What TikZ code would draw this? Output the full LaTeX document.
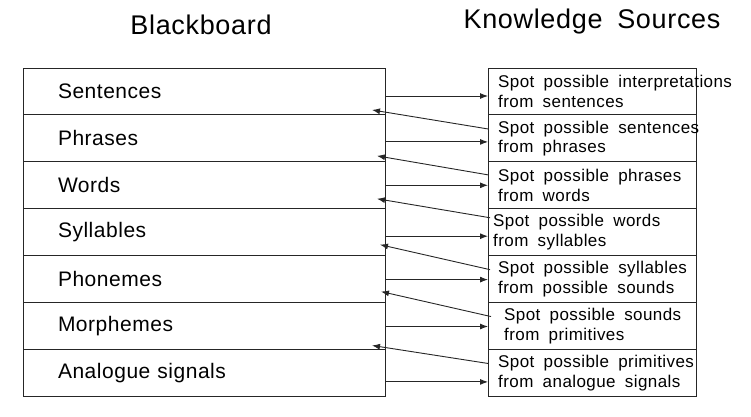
\documentclass[tikz,border=0pt]{standalone}
\usepackage{fontspec}
\setmainfont{Liberation Sans}
\newfontfamily\widefont{Liberation Sans}[WordSpace=1.8, LetterSpace=2.5]
\usetikzlibrary{positioning,arrows.meta}

\tikzset{
  title/.style={font=\widefont\fontsize{27}{32}\selectfont, inner sep=0},
  level/.style={draw=black!85, line width=1pt, outer sep=0, inner xsep=35pt,
    text width=292pt, minimum height=46.9pt, align=left,
    font=\widefont\fontsize{21}{24}\selectfont},
  ksbox/.style={draw=black!85, line width=1pt, outer sep=0,
    minimum width=208pt, minimum height=46.9pt},
  kstext/.style={font=\widefont\fontsize{17}{19.5}\selectfont, align=left, inner sep=0},
  conn/.style={draw=black!85, line width=0.9pt, -{Latex[length=8pt,width=6pt]}}
}

\begin{document}
\begin{tikzpicture}[x=1pt, y=-1pt, node distance=0pt]
  \useasboundingbox (0,0) rectangle (751,416);

  \node[title] (bb) at (201, 25) {Blackboard};
  \node[title] (ks) at (592, 22) {Knowledge Sources};

  \node[level] (sent) at (204, 91.5) {Sentences};
  \node[level, below=of sent] (phr) {Phrases};
  \node[level, below=of phr] (words) {Words};
  \node[level, below=of words] (syl) {Syllables};
  \node[level, below=of syl] (phon) {Phonemes};
  \node[level, below=of phon] (morph) {Morphemes};
  \node[level, below=of morph] (analog) {Analogue signals};

  \node[ksbox] (kInt) at (592, 91.5) {};
  \node[ksbox, below=of kInt] (kSen) {};
  \node[ksbox, below=of kSen] (kPhr) {};
  \node[ksbox, below=of kPhr] (kWrd) {};
  \node[ksbox, below=of kWrd] (kSyl) {};
  \node[ksbox, below=of kSyl] (kSnd) {};
  \node[ksbox, below=of kSnd] (kPrim) {};

  \node[kstext, right=10pt of kInt.west] (tInt)
    {Spot possible interpretations\\from sentences};
  \node[kstext, right=10pt of kSen.west] (tSen)
    {Spot possible sentences\\from phrases};
  \node[kstext, right=10pt of kPhr.west] (tPhr)
    {Spot possible phrases\\from words};
  \node[kstext, right=5pt of kWrd.west] (tWrd)
    {Spot possible words\\from syllables};
  \node[kstext, right=10pt of kSyl.west] (tSyl)
    {Spot possible syllables\\from possible sounds};
  \node[kstext, right=16pt of kSnd.west] (tSnd)
    {Spot possible sounds\\from primitives};
  \node[kstext, right=10pt of kPrim.west] (tPrim)
    {Spot possible primitives\\from analogue signals};

  \draw[conn] ([yshift=-4.5pt]sent.east)   -- ([yshift=-4.5pt]kInt.west);
  \draw[conn] ([yshift=-3.5pt]phr.east)    -- ([yshift=-3.5pt]kSen.west);
  \draw[conn] (words.east)                 -- (kPhr.west);
  \draw[conn] ([yshift=-4pt]syl.east)      -- ([yshift=-4pt]kWrd.west);
  \draw[conn] ([yshift=-0.5pt]phon.east)   -- ([yshift=-0.5pt]kSyl.west);
  \draw[conn] ([yshift=-0.5pt]morph.east)  -- ([yshift=-0.5pt]kSnd.west);
  \draw[conn] ([yshift=-9pt]analog.east)   -- ([yshift=-9pt]kPrim.west);

  \draw[conn] ([yshift=-14pt]kSen.north west)
    -- ([xshift=-13pt, yshift=5pt]sent.south east);
  \draw[conn] ([yshift=-13pt]kPhr.north west)
    -- ([xshift=-8pt, yshift=6pt]phr.south east);
  \draw[conn] ([xshift=2pt, yshift=-9pt]kWrd.north west)
    -- ([xshift=-8pt, yshift=10pt]words.south east);
  \draw[conn] ([xshift=2pt, yshift=-14pt]kSyl.north west)
    -- ([xshift=-5pt, yshift=11pt]syl.south east);
  \draw[conn] ([xshift=3pt, yshift=-14pt]kSnd.north west)
    -- ([xshift=-4pt, yshift=11pt]phon.south east);
  \draw[conn] ([yshift=-14pt]kPrim.north west)
    -- ([xshift=-13pt, yshift=4pt]morph.south east);
\end{tikzpicture}
\end{document}
